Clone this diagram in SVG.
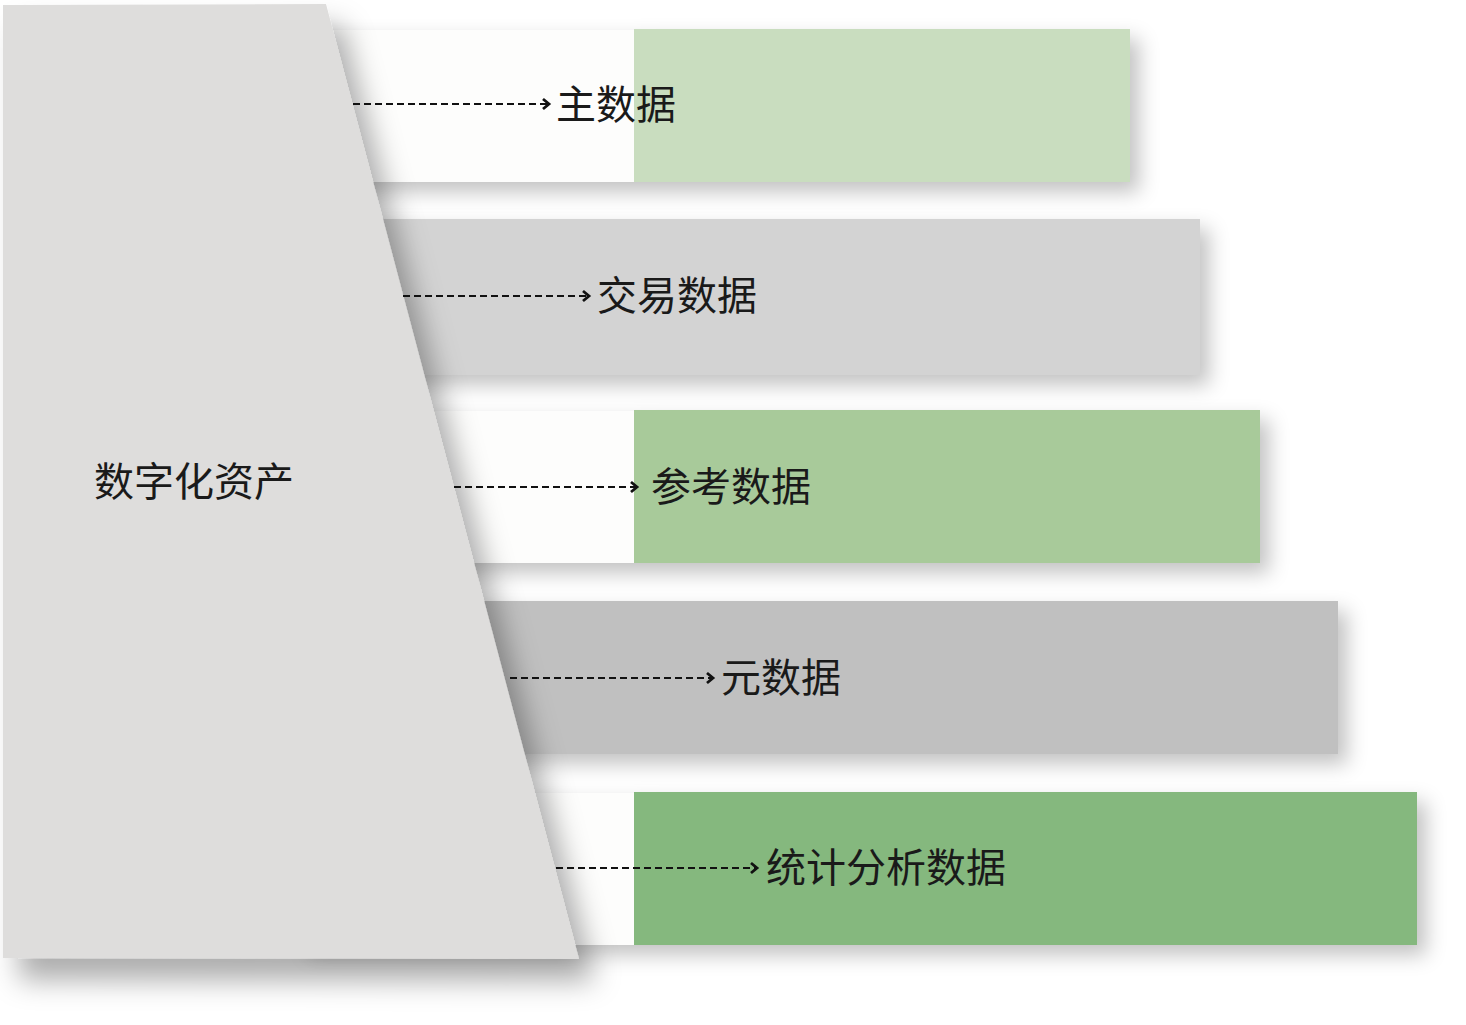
<svg xmlns="http://www.w3.org/2000/svg" width="1466" height="1025" viewBox="0 0 1466 1025">
<style>
.lbl{font-family:"Noto Sans CJK SC","Noto Sans CJK TC",sans-serif;font-size:40px;fill:#1a1a1a;font-weight:400;dominant-baseline:central}
.conn{fill:none;stroke:#111;stroke-width:2.2;stroke-dasharray:7 4}
.white{fill:#fdfdfc}
</style>
<defs>
<filter id="barShadow" x="-10%" y="-30%" width="125%" height="170%">
<feDropShadow dx="9" dy="10" stdDeviation="10" flood-color="#000" flood-opacity="0.24"/>
</filter>
<filter id="trapShadow" x="-10%" y="-10%" width="130%" height="120%">
<feDropShadow dx="16" dy="22" stdDeviation="14" flood-color="#000" flood-opacity="0.32"/>
</filter>
<marker id="chev" markerUnits="userSpaceOnUse" markerWidth="12" markerHeight="14" refX="8" refY="7" orient="auto">
<path d="M2,2 L8,7 L2,12" fill="none" stroke="#111" stroke-width="2.8"/>
</marker>
</defs>
<rect width="1466" height="1025" fill="#ffffff"/>

<g id="bar-zhu" filter="url(#barShadow)">
<rect class="white" x="300" y="30" width="334" height="152"/>
<rect x="634" y="29" width="496" height="153" fill="#c9ddbf"/>
</g>
<g id="bar-jiaoyi" filter="url(#barShadow)">
<rect x="300" y="219" width="900" height="156" fill="#d3d3d3"/>
</g>
<g id="bar-cankao" filter="url(#barShadow)">
<rect class="white" x="300" y="411" width="334" height="152"/>
<rect x="634" y="410" width="626" height="153" fill="#a8ca9a"/>
</g>
<g id="bar-yuan" filter="url(#barShadow)">
<rect x="300" y="601" width="1038" height="153" fill="#c0c0c0"/>
</g>
<g id="bar-tongji" filter="url(#barShadow)">
<rect class="white" x="300" y="793" width="334" height="152"/>
<rect x="634" y="792" width="783" height="153" fill="#85b87e"/>
</g>

<g id="asset" filter="url(#trapShadow)">
<polygon points="3,5 326,4 579,959 3,958" fill="#dedddc"/>
</g>
<text class="lbl" x="94" y="479">数字化资产</text>

<g id="connectors">
<line class="conn" x1="353" y1="104" x2="549" y2="104" marker-end="url(#chev)"/>
<line class="conn" x1="403" y1="296" x2="589" y2="296" marker-end="url(#chev)"/>
<line class="conn" x1="454" y1="487" x2="637" y2="487" marker-end="url(#chev)"/>
<line class="conn" x1="510" y1="678" x2="713" y2="678" marker-end="url(#chev)"/>
<line class="conn" x1="556" y1="868" x2="757" y2="868" marker-end="url(#chev)"/>
</g>

<text class="lbl" x="556" y="102">主数据</text>
<text class="lbl" x="597" y="293">交易数据</text>
<text class="lbl" x="651" y="484">参考数据</text>
<text class="lbl" x="721" y="675">元数据</text>
<text class="lbl" x="766" y="865">统计分析数据</text>
</svg>
